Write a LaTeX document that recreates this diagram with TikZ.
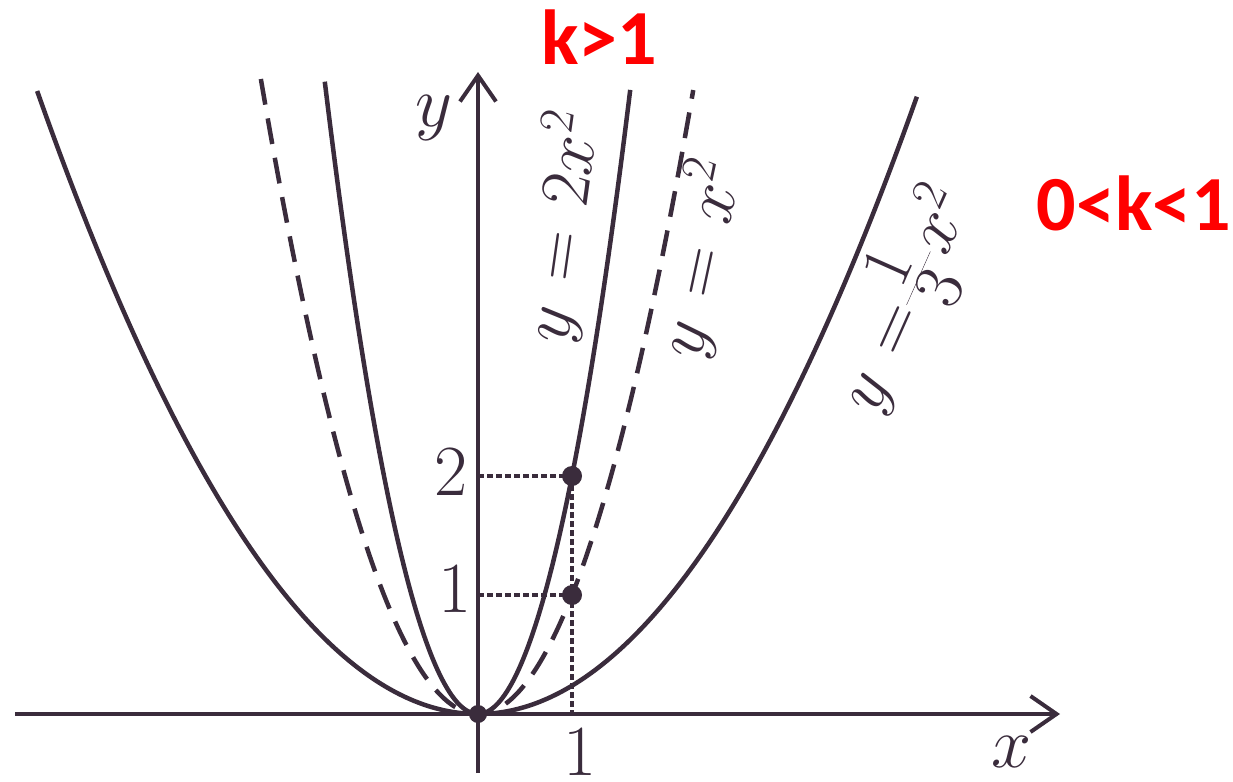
\RequirePackage{fix-cm}
\documentclass[tikz,border=0pt]{standalone}
\usepackage{fontspec}
\usetikzlibrary{arrows.meta}
\newfontfamily\redfont{Carlito}
\definecolor{ink}{RGB}{58,44,60}
\definecolor{redtxt}{RGB}{255,0,0}
\newcommand{\wideeq}{\thickmuskip=6.5mu\relax}
\begin{document}
\begin{tikzpicture}[x=1pt,y=-1pt,
  curve/.style={ink, line width=4.5pt},
  dashcurve/.style={ink, line width=4.5pt, dash pattern=on 26pt off 14pt},
  axis/.style={ink, line width=4pt, -{Straight Barb[length=26pt,width=36pt]}},
  dotline/.style={ink, line width=3.5pt, dash pattern=on 6pt off 3pt},
  lab/.style={text=ink, font=\fontsize{72}{86}\selectfont, inner sep=0pt},
  rlab/.style={text=ink, font=\fontsize{70}{84}\selectfont, inner sep=0pt},
  redlab/.style={text=redtxt, font=\redfont\bfseries\fontsize{78}{90}\selectfont, inner sep=0pt}]
\useasboundingbox (0,0) rectangle (1233,781);
\coordinate (O) at (478,714);
\coordinate (xs) at (15,714);
\coordinate (xe) at (1060,714);
\coordinate (ys) at (478,773);
\coordinate (ye) at (478,72);
\draw[axis] (xs) -- (xe);
\draw[axis] (ys) -- (ye);
\begin{scope}[shift={(478,714)}, x={(94pt,0pt)}, y={(0pt,119pt)}]
  \draw[curve] plot[domain=-4.69:4.67, samples=120, smooth] (\x,{0.238*\x*\x});
  \draw[dashcurve] plot[domain=-2.31:2.29, samples=100, smooth] (\x,{\x*\x});
  \draw[curve] plot[domain=-1.63:1.62, samples=100, smooth] (\x,{2*\x*\x});
  \coordinate (P2) at (1,2);
  \coordinate (P1) at (1,1);
  \coordinate (Y2) at (0,2);
  \coordinate (Y1) at (0,1);
  \coordinate (X1) at (1,0);
\end{scope}
\draw[dotline] (Y2) -- (P2);
\draw[dotline] (Y1) -- (P1);
\draw[dotline] (P2) -- (X1);
\fill[ink] (P2) circle (10pt);
\fill[ink] (P1) circle (10pt);
\fill[ink] (O) circle (9pt);
\node[lab] (ylab) at (434,118) {$y$};
\node[lab] (xlab) at (1012,752) {$x$};
\node[lab] (onex) at (580,752) {$1$};
\node[lab] (twoy) at (451,472) {$2$};
\node[lab] (oney) at (455,589) {$1$};
\node[rlab, rotate=82] (l1) at (562,227) {$\wideeq y=2x^2$};
\node[rlab, rotate=78] (l2) at (700,259) {$\wideeq y=x^2$};
\node[rlab, rotate=66] (l3) at (904,299) {$y\mskip6.5mu{=}\frac{\mkern4mu\textstyle 1\mkern4mu}{\textstyle 3}x^2$};
\node[redlab] (k1) at (599,37) {k>1};
\node[redlab] (k2) at (1134,203) {0<k<1};
\end{tikzpicture}
\end{document}
